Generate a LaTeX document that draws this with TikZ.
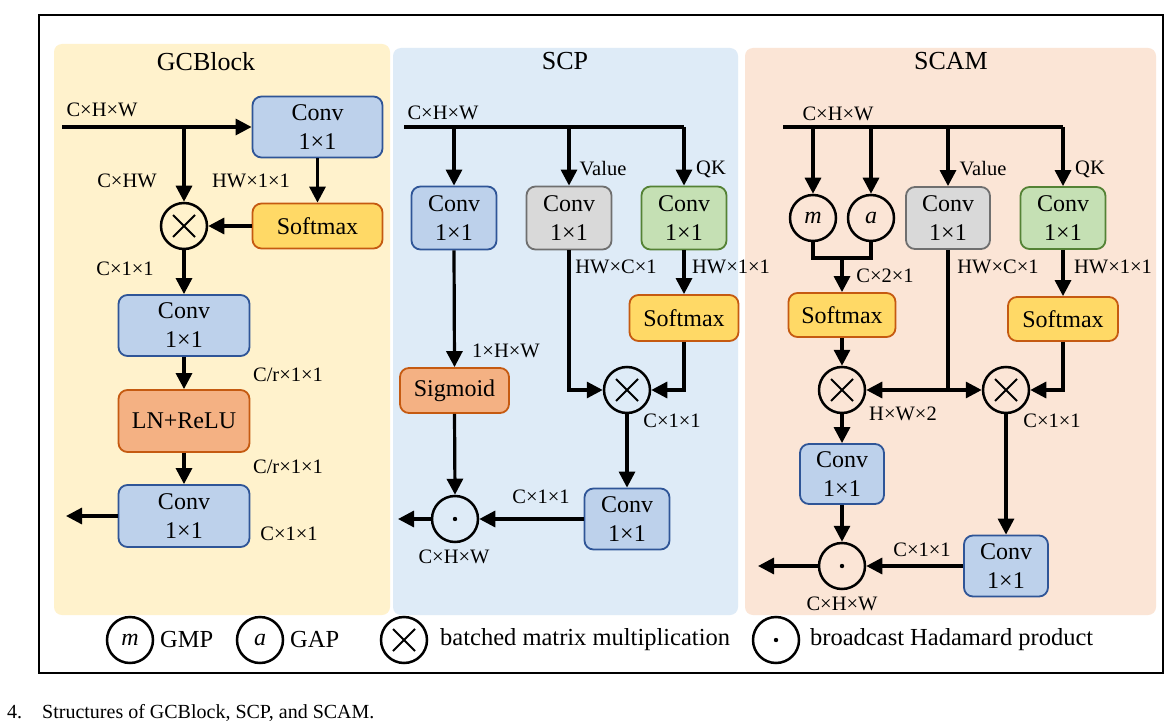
\documentclass[tikz,border=0pt]{standalone}
\usepackage{fontspec}
\setmainfont{Liberation Serif}
\usetikzlibrary{arrows.meta}
\definecolor{gcbg}{HTML}{FFF2CC}
\definecolor{scpbg}{HTML}{DEEBF7}
\definecolor{scambg}{HTML}{FBE5D6}
\definecolor{convF}{HTML}{BDD1EB}
\definecolor{convD}{HTML}{2F5597}
\definecolor{softF}{HTML}{FFD966}
\definecolor{orD}{HTML}{C55A11}
\definecolor{lnF}{HTML}{F4B183}
\definecolor{grayF}{HTML}{D9D9D9}
\definecolor{grayD}{HTML}{6F6F6F}
\definecolor{greenF}{HTML}{C5E0B4}
\definecolor{greenD}{HTML}{548235}
\newcommand\myLbl{\fontsize{20.5}{24}\selectfont}
\newcommand\myBox{\fontsize{24}{29}\selectfont}
\newcommand\myTitle{\fontsize{26}{30}\selectfont}
\newcommand\myLeg{\fontsize{24.5}{29}\selectfont}
\newcommand\myCap{\fontsize{20}{24}\selectfont}
\begin{document}
\begin{tikzpicture}[x=1pt,y=-1pt,
  arr/.style={line width=3.2pt,-{Triangle[length=16pt,width=16pt]}},
  ln/.style={line width=3.2pt},
  blk/.style={draw, rounded corners=9pt, line width=1.8pt, align=center, inner sep=0pt, font=\myBox},
  conv/.style={blk, draw=convD, fill=convF},
  soft/.style={blk, draw=orD, fill=softF},
  lnb/.style={blk, draw=orD, fill=lnF},
  grayb/.style={blk, draw=grayD, fill=grayF},
  greenb/.style={blk, draw=greenD, fill=greenF},
  lbl/.style={font=\myLbl, inner sep=0pt},
  ttl/.style={font=\myTitle, inner sep=0pt},
  leg/.style={font=\myLeg, inner sep=0pt, anchor=west},
  cir/.style={circle, draw, line width=2.5pt, minimum size=46pt, inner sep=0pt, font=\myBox},
  mulc/.style={cir, path picture={\draw[line width=1.9pt]
     ([shift={(-11pt,-11pt)}]path picture bounding box.center) -- ([shift={(11pt,11pt)}]path picture bounding box.center)
     ([shift={(-11pt,11pt)}]path picture bounding box.center) -- ([shift={(11pt,-11pt)}]path picture bounding box.center);}},
  hadc/.style={cir, path picture={\fill (path picture bounding box.center) circle (2.2pt);}}
]
\useasboundingbox (0,0) rectangle (1175,722);
\fill[white] (0,0) rectangle (1175,722);
% panels
\fill[gcbg, rounded corners=8pt] (54,44) rectangle (390,615);
\fill[scpbg, rounded corners=8pt] (393,48) rectangle (738,615);
\fill[scambg, rounded corners=8pt] (745,48) rectangle (1156,615);
\draw[line width=2pt] (39,15) rectangle (1163,673);
% titles
\node[ttl] (t1) at (206,62) {GCBlock};
\node[ttl] (t2) at (565,61) {SCP};
\node[ttl] (t3) at (951,61) {SCAM};

% ---------------- GCBlock ----------------
\coordinate (gin) at (62,127);
\coordinate (gj) at (184,127);
\node[conv, minimum width=130pt, minimum height=61pt] (gconv1) at (317.5,127) {Conv\\1×1};
\node[soft, minimum width=130pt, minimum height=45pt] (gsoft) at (317.5,226) {Softmax};
\node[mulc] (gmul) at (184,226) {};
\node[conv, minimum width=131pt, minimum height=61pt] (gconv2) at (184,325.5) {Conv\\1×1};
\node[lnb, minimum width=131pt, minimum height=62pt] (gln) at (184,421) {LN+ReLU};
\node[conv, minimum width=131pt, minimum height=62pt] (gconv3) at (184,516) {Conv\\1×1};
\coordinate (gout) at (66,516);
\draw[arr] (gin) -- (gconv1.west);
\draw[arr] (gj) -- (gmul.north);
\draw[arr] (gconv1.south) -- (gsoft.north);
\draw[arr] (gsoft.west) -- (gmul.east);
\draw[arr] (gmul.south) -- (gconv2.north);
\draw[arr] (gconv2.south) -- (gln.north);
\draw[arr] (gln.south) -- (gconv3.north);
\draw[arr] (gconv3.west) -- (gout);
\node[lbl] (gl1) at (102,110) {C×H×W};
\node[lbl] (gl2) at (127,181) {C×HW};
\node[lbl] (gl3) at (251,181) {HW×1×1};
\node[lbl] (gl4) at (125,269) {C×1×1};
\node[lbl] (gl5) at (288,375) {C/r×1×1};
\node[lbl] (gl6) at (288,467) {C/r×1×1};
\node[lbl] (gl7) at (289,534) {C×1×1};

% ---------------- SCP ----------------
\coordinate (sin) at (404,127);
\coordinate (sc) at (684,127);
\node[conv, minimum width=85pt, minimum height=63pt] (sconvb) at (454,218) {Conv\\1×1};
\node[grayb, minimum width=85pt, minimum height=63pt] (sconvg) at (569,218) {Conv\\1×1};
\node[greenb, minimum width=85pt, minimum height=63pt] (sconvq) at (684,218) {Conv\\1×1};
\node[soft, minimum width=109pt, minimum height=46pt] (ssoft) at (684,318) {Softmax};
\node[lnb, minimum width=109pt, minimum height=45pt] (ssig) at (454.5,390.5) {Sigmoid};
\node[mulc] (smul) at (627,390) {};
\node[conv, minimum width=85pt, minimum height=61pt] (sconv2) at (627,519) {Conv\\1×1};
\node[hadc] (shad) at (455,519) {};
\coordinate (sout) at (398,519);
\draw[ln] (sin) -- (sc);
\draw[arr] (sc) -- (sconvq.north);
\draw[arr] (sconvb.north |- sin) -- (sconvb.north);
\draw[arr] (sconvg.north |- sin) -- (sconvg.north);
\draw[arr] (sconvq.south) -- (ssoft.north);
\draw[arr] (sconvg.south) |- (smul.west);
\draw[arr] (ssoft.south) |- (smul.east);
\draw[arr] (sconvb.south) -- (ssig.north);
\draw[arr] (smul.south) -- (sconv2.north);
\draw[arr] (sconv2.west) -- (shad.east);
\draw[arr] (ssig.south) -- (shad.north);
\draw[arr] (shad.west) -- (sout);
\node[lbl] (sl1) at (443,113) {C×H×W};
\node[lbl] (sl2) at (603,169) {Value};
\node[lbl] (sl3) at (711,169) {QK};
\node[lbl] (sl4) at (616,267) {HW×C×1};
\node[lbl] (sl5) at (731,267) {HW×1×1};
\node[lbl] (sl6) at (506,351) {1×H×W};
\node[lbl] (sl7) at (672,421) {C×1×1};
\node[lbl] (sl8) at (541,497) {C×1×1};
\node[lbl] (sl9) at (454,557) {C×H×W};

% ---------------- SCAM ----------------
\coordinate (cin) at (783,127);
\coordinate (cc) at (1063,127);
\node[cir] (cm) at (813,218) {\itshape m};
\node[cir] (ca) at (871,218) {\itshape a};
\node[grayb, minimum width=84pt, minimum height=62pt] (cgray) at (948,218) {Conv\\1×1};
\node[greenb, minimum width=85pt, minimum height=62pt] (cgreen) at (1063,218) {Conv\\1×1};
\coordinate (cj) at (842,258);
\node[soft, minimum width=107pt, minimum height=44pt] (csoft1) at (842,315) {Softmax};
\node[soft, minimum width=110pt, minimum height=44pt] (csoft2) at (1063,319) {Softmax};
\node[mulc] (cmul1) at (842,390) {};
\node[mulc] (cmul2) at (1006,390) {};
\coordinate (cv) at (948,390);
\node[conv, minimum width=84pt, minimum height=60pt] (cconv1) at (842,474) {Conv\\1×1};
\node[conv, minimum width=84pt, minimum height=61pt] (cconv2) at (1006,566) {Conv\\1×1};
\node[hadc] (chad) at (842,566) {};
\coordinate (cout) at (758,566);
\draw[ln] (cin) -- (cc);
\draw[arr] (cc) -- (cgreen.north);
\draw[arr] (cm.north |- cin) -- (cm.north);
\draw[arr] (ca.north |- cin) -- (ca.north);
\draw[arr] (cgray.north |- cin) -- (cgray.north);
\draw[ln] (cm.south) |- (cj) -| (ca.south);
\draw[arr] (cj) -- (csoft1.north);
\draw[arr] (cgreen.south) -- (csoft2.north);
\draw[ln] (cgray.south) -- (cv);
\draw[arr] (cv) -- (cmul1.east);
\draw[arr] (cv) -- (cmul2.west);
\draw[arr] (csoft1.south) -- (cmul1.north);
\draw[arr] (csoft2.south) |- (cmul2.east);
\draw[arr] (cmul1.south) -- (cconv1.north);
\draw[arr] (cconv1.south) -- (chad.north);
\draw[arr] (cmul2.south) -- (cconv2.north);
\draw[arr] (cconv2.west) -- (chad.east);
\draw[arr] (chad.west) -- (cout);
\node[lbl] (cl1) at (838,114) {C×H×W};
\node[lbl] (cl2) at (983,169) {Value};
\node[lbl] (cl3) at (1090,169) {QK};
\node[lbl] (cl4) at (885,276) {C×2×1};
\node[lbl] (cl5) at (998,267) {HW×C×1};
\node[lbl] (cl6) at (1113,267) {HW×1×1};
\node[lbl] (cl7) at (903,414) {H×W×2};
\node[lbl] (cl8) at (1052,421) {C×1×1};
\node[lbl] (cl9) at (922,550) {C×1×1};
\node[lbl] (cl10) at (842,604) {C×H×W};

% ---------------- legend ----------------
\node[cir] (lm) at (130,640) {\itshape m};
\node[leg] (lmt) at (160,640) {GMP};
\node[cir] (la) at (260,640) {\itshape a};
\node[leg] (lat) at (290,640) {GAP};
\node[mulc] (lx) at (404,640) {};
\node[leg] (lxt) at (440,640) {batched matrix multiplication};
\node[hadc] (lh) at (776,640) {};
\node[leg] (lht) at (810,640) {broadcast Hadamard product};

% caption
\node[font=\myCap, inner sep=0pt, anchor=base west] (capn) at (7,718) {4.};
\node[font=\myCap, inner sep=0pt, anchor=base west] (cap) at (42,718) {Structures of GCBlock, SCP, and SCAM.};
\end{tikzpicture}
\end{document}
